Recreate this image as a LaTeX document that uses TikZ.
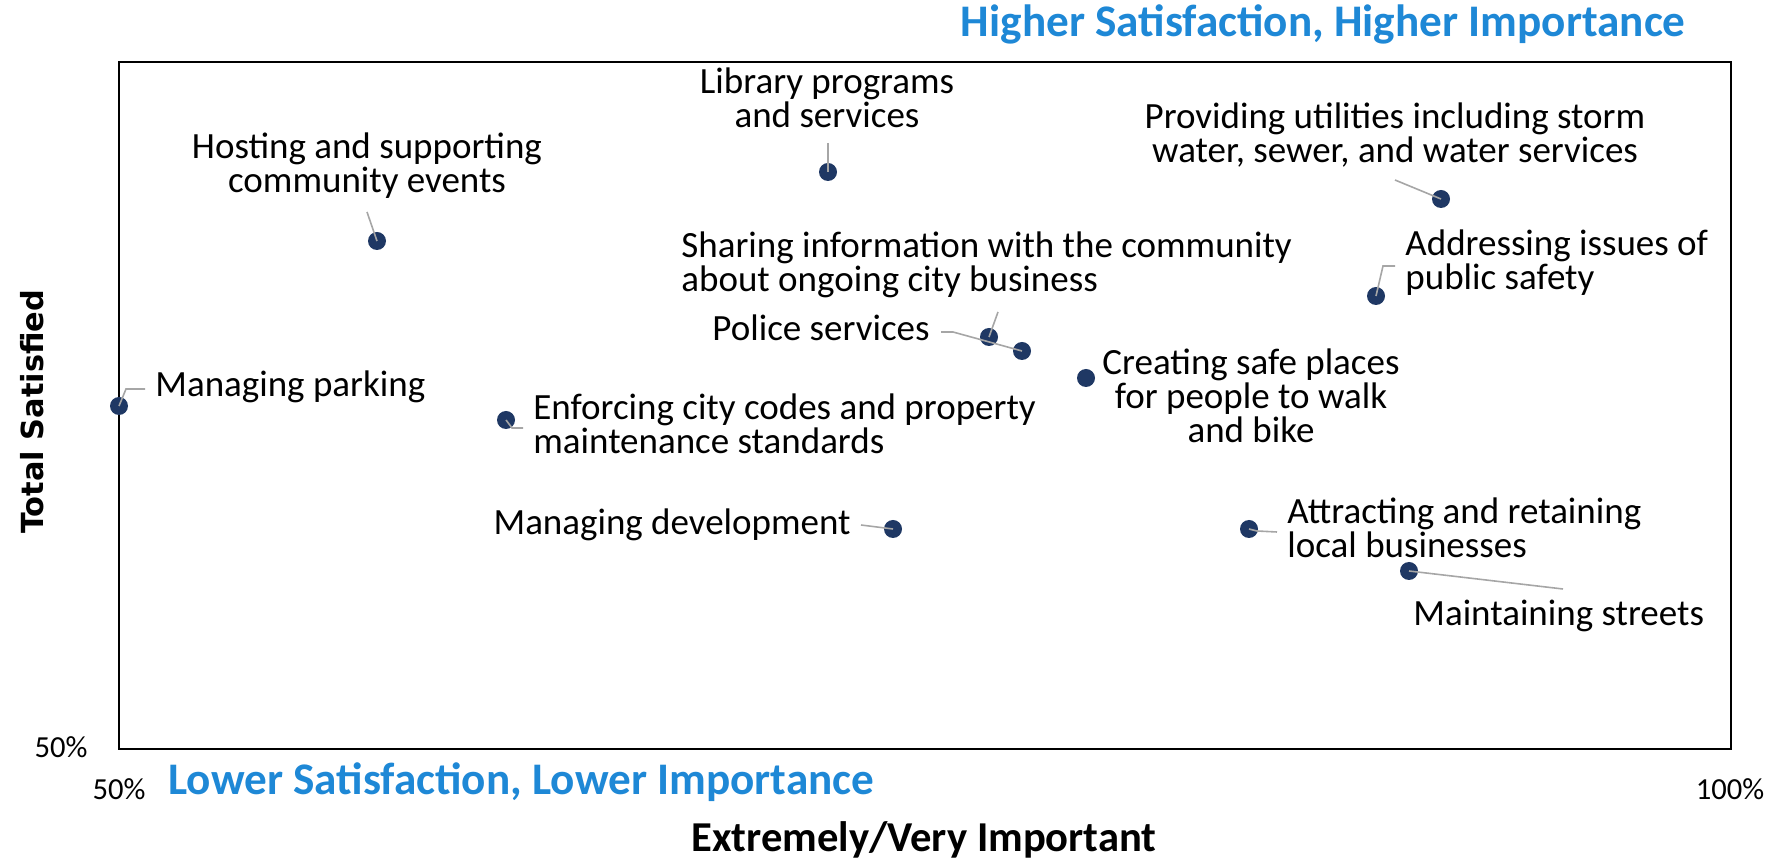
\documentclass[tikz,border=0pt]{standalone}
\usepackage{fontspec}
\setmainfont{Carlito}
\newfontfamily\axisfont{DejaVu Sans}
\usepackage{tikz}
\usetikzlibrary{positioning,calc}
\definecolor{navy}{RGB}{31,56,100}
\definecolor{leadgray}{RGB}{166,166,166}
\definecolor{quadblue}{RGB}{30,136,214}
\tikzset{
  dot/.style={circle, fill=navy, minimum size=9pt, inner sep=0pt},
  leader/.style={draw=leadgray, line width=0.8pt},
  lab/.style={inner sep=0pt, font=\fontsize{18.5}{17}\selectfont},
  tick/.style={inner sep=0pt, font=\fontsize{15.3}{18}\selectfont},
  quad/.style={inner sep=0pt, text=quadblue, font=\bfseries\fontsize{22.6}{26}\selectfont}
}

\begin{document}
\begin{tikzpicture}[x=0.5pt,y=-0.5pt]
  \useasboundingbox (0,0) rectangle (1785,860);
  \draw[line width=1pt] (119,62) rectangle (1731,749);

  % data points
  \node[dot] (Parking) at (119,406) {};
  \node[dot] (Hosting) at (377,241) {};
  \node[dot] (Library) at (828,172) {};
  \node[dot] (Utilities) at (1441,199) {};
  \node[dot] (Safety) at (1376,296) {};
  \node[dot] (Sharing) at (989,337) {};
  \node[dot] (Police) at (1022,351) {};
  \node[dot] (Walk) at (1086,378) {};
  \node[dot] (Codes) at (506,420) {};
  \node[dot] (Develop) at (893,529) {};
  \node[dot] (Business) at (1249,529) {};
  \node[dot] (Streets) at (1409,571) {};

  % labels (multi-line ones sit on their last baseline)
  \node[lab,anchor=base west] (ParkingTxt) at (155,397) {Managing parking};
  \node[lab,align=center,anchor=base] (HostingTxt) at (367,193) {Hosting and supporting\\community events};
  \node[lab,align=center,anchor=base] (LibraryTxt) at (827,128) {Library programs\\and services};
  \node[lab,align=center,anchor=base] (UtilitiesTxt) at (1395,163) {Providing utilities including storm\\water, sewer, and water services};
  \node[lab,align=left,anchor=base west] (SafetyTxt) at (1405,290) {Addressing issues of\\public safety};
  \node[lab,align=left,anchor=base west] (SharingTxt) at (681,292) {Sharing information with the community\\about ongoing city business};
  \node[lab,anchor=base east] (PoliceTxt) at (930,341) {Police services};
  \node[lab,align=center,anchor=base] (WalkTxt) at (1251,443) {Creating safe places\\for people to walk\\and bike};
  \node[lab,align=left,anchor=base west] (CodesTxt) at (533,454) {Enforcing city codes and property\\maintenance standards};
  \node[lab,anchor=base east] (DevelopTxt) at (851,535) {Managing development};
  \node[lab,align=left,anchor=base west] (BusinessTxt) at (1287,558) {Attracting and retaining\\local businesses};
  \node[lab,anchor=base west] (StreetsTxt) at (1413,626) {Maintaining streets};

  % leader lines
  \coordinate (pA) at (126,389);
  \coordinate (pB) at (145,389);
  \coordinate (hA) at (367,212);
  \coordinate (lA) at (828,143);
  \coordinate (uA) at (1395,180);
  \coordinate (sA) at (1383,266);
  \coordinate (sB) at (1395,266);
  \coordinate (iA) at (998,312);
  \coordinate (poA) at (941,332);
  \coordinate (poB) at (953,332);
  \coordinate (cA) at (512,428);
  \coordinate (cB) at (523,428);
  \coordinate (dA) at (861,525);
  \coordinate (bA) at (1257,531);
  \coordinate (bB) at (1277,532);
  \coordinate (stA) at (1563,589);
  \draw[leader] (pB) -- (pA) -- (Parking.center);
  \draw[leader] (hA) -- (Hosting.center);
  \draw[leader] (lA) -- (Library.center);
  \draw[leader] (uA) -- (Utilities.center);
  \draw[leader] (sB) -- (sA) -- (Safety.center);
  \draw[leader] (iA) -- (Sharing.center);
  \draw[leader] (poA) -- (poB) -- (Police.center);
  \draw[leader] (cB) -- (cA) -- (Codes.center);
  \draw[leader] (dA) -- (Develop.center);
  \draw[leader] (bB) -- (bA) -- (Business.center);
  \draw[leader] (stA) -- (Streets.center);

  % axes and quadrant titles
  \node[tick,anchor=base] (yMin) at (61,758) {50\%};
  \node[tick,anchor=base] (xMin) at (119,800) {50\%};
  \node[tick,anchor=base] (xMax) at (1730,800) {100\%};
  \node[quad,anchor=base east] (High) at (1686,37) {Higher Satisfaction, Higher Importance};
  \node[quad,anchor=base west] (Low) at (168,795) {Lower Satisfaction, Lower Importance};
  \node[inner sep=0pt,anchor=base,font=\bfseries\fontsize{21.3}{24}\selectfont] (xTitle) at (924,852) {Extremely/Very Important};
  \node[inner sep=0pt,rotate=90,font=\axisfont\bfseries\fontsize{15.2}{18}\selectfont] (yTitle) at (32,412) {Total Satisfied};
\end{tikzpicture}
\end{document}
